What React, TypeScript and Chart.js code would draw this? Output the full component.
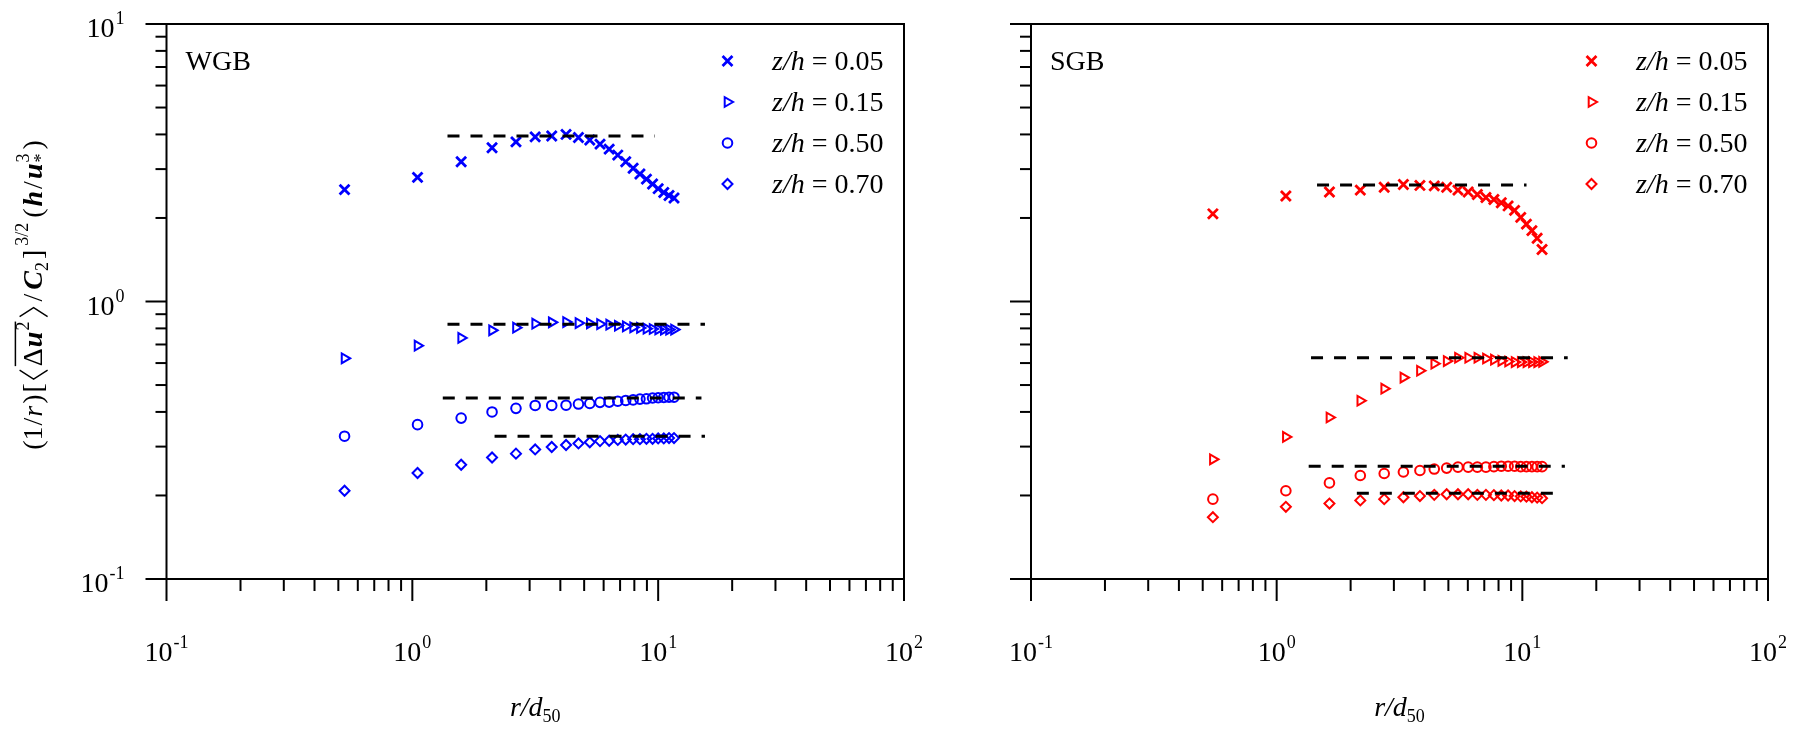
import React, { useEffect, useRef } from 'react';
import { Chart, registerables } from 'chart.js';
import { drawPoint } from 'chart.js/helpers';

Chart.register(...registerables);

const FONT = '"Liberation Serif", "Times New Roman", Times, serif';

// ---------------- data ----------------
const seriesLabels = ['0.05', '0.15', '0.50', '0.70'];

const wgbX = [0.53, 1.05, 1.58, 2.11, 2.64, 3.16, 3.69, 4.22, 4.74, 5.27, 5.80, 6.32, 6.85, 7.38, 7.91, 8.43, 8.96, 9.49, 10.0, 10.54, 11.07, 11.6];
const wgb005 = [2.53, 2.80, 3.19, 3.58, 3.76, 3.92, 3.95, 4.00, 3.90, 3.82, 3.69, 3.54, 3.37, 3.19, 3.02, 2.88, 2.76, 2.65, 2.55, 2.47, 2.41, 2.36];
const wgb015 = [0.624, 0.693, 0.739, 0.787, 0.805, 0.832, 0.841, 0.843, 0.836, 0.834, 0.829, 0.825, 0.818, 0.813, 0.807, 0.803, 0.798, 0.796, 0.794, 0.792, 0.792, 0.792];
const wgb050 = [0.327, 0.360, 0.380, 0.400, 0.412, 0.422, 0.422, 0.423, 0.427, 0.429, 0.433, 0.434, 0.437, 0.440, 0.442, 0.445, 0.446, 0.449, 0.450, 0.451, 0.452, 0.452];
const wgb070 = [0.208, 0.241, 0.258, 0.274, 0.283, 0.293, 0.299, 0.304, 0.308, 0.311, 0.314, 0.315, 0.317, 0.318, 0.319, 0.319, 0.320, 0.320, 0.321, 0.321, 0.322, 0.322];
const wgbRefLevel = [3.95, 0.828, 0.449, 0.327];
const wgbRefStart = [1.39, 1.39, 1.33, 2.16];
const wgbRefEnd = [9.7, 15.5, 15.0, 15.5];

const sgbX = [0.55, 1.09, 1.64, 2.19, 2.74, 3.28, 3.83, 4.38, 4.92, 5.47, 6.02, 6.56, 7.11, 7.66, 8.21, 8.75, 9.30, 9.85, 10.39, 10.94, 11.49, 12.03];
const sgb005 = [2.07, 2.40, 2.48, 2.52, 2.58, 2.64, 2.62, 2.61, 2.58, 2.52, 2.48, 2.43, 2.37, 2.33, 2.27, 2.21, 2.13, 2.01, 1.90, 1.80, 1.69, 1.54];
const sgb015 = [0.270, 0.325, 0.382, 0.439, 0.485, 0.532, 0.563, 0.597, 0.610, 0.627, 0.627, 0.627, 0.623, 0.617, 0.611, 0.608, 0.605, 0.605, 0.605, 0.605, 0.605, 0.606];
const sgb050 = [0.194, 0.208, 0.222, 0.236, 0.240, 0.243, 0.246, 0.249, 0.251, 0.253, 0.253, 0.253, 0.253, 0.254, 0.255, 0.255, 0.255, 0.254, 0.254, 0.254, 0.254, 0.254];
const sgb070 = [0.167, 0.182, 0.187, 0.192, 0.194, 0.197, 0.199, 0.201, 0.202, 0.202, 0.202, 0.201, 0.201, 0.2005, 0.200, 0.200, 0.199, 0.1985, 0.198, 0.197, 0.1965, 0.1955];
const sgbRefLevel = [2.63, 0.627, 0.255, 0.2035];
const sgbRefStart = [1.46, 1.38, 1.35, 2.12];
const sgbRefEnd = [10.4, 15.3, 14.9, 14.7];

const xMajorTicks = [0.1, 1, 10, 100];
const xTickExponents = ['-1', '0', '1', '2'];
const yMajorTicks = [0.1, 1, 10];
const yTickExponents = ['-1', '0', '1'];
const minorMultipliers = [2, 3, 4, 5, 6, 7, 8, 9];

// ---------------- styles ----------------
const markerStyles = [
  { pointStyle: 'crossRot', radius: 7, rotation: 0, borderWidth: 2.8 },
  { pointStyle: 'triangle', radius: 5.6, rotation: 90, borderWidth: 2 },
  { pointStyle: 'circle', radius: 4.8, rotation: 0, borderWidth: 2 },
  { pointStyle: 'rectRot', radius: 5, rotation: 0, borderWidth: 2 },
];

const AREA_TOP = 24;
const AREA_BOTTOM = 579;
const H = 730;

type PanelCfg = {
  name: string;
  color: string;
  xs: number[];
  ys: number[][];
  refLevel: number[];
  refStart: number[];
  refEnd: number[];
  canvasLeft: number;
  canvasWidth: number;
  areaLeft: number;
  areaRight: number;
  yLabels: boolean;
  yTitle: boolean;
};

const panels: PanelCfg[] = [
  {
    name: 'WGB', color: '#0000ff', xs: wgbX, ys: [wgb005, wgb015, wgb050, wgb070],
    refLevel: wgbRefLevel, refStart: wgbRefStart, refEnd: wgbRefEnd,
    canvasLeft: 0, canvasWidth: 945, areaLeft: 166.5, areaRight: 904, yLabels: true, yTitle: true,
  },
  {
    name: 'SGB', color: '#ff0000', xs: sgbX, ys: [sgb005, sgb015, sgb050, sgb070],
    refLevel: sgbRefLevel, refStart: sgbRefStart, refEnd: sgbRefEnd,
    canvasLeft: 945, canvasWidth: 859, areaLeft: 1031, areaRight: 1768, yLabels: false, yTitle: false,
  },
];

type Item = { t?: string; font?: string; dy?: number; gap?: number; kind?: string; w?: number; stackDy?: number; stackT?: string; ovStart?: boolean; ovEnd?: boolean };

function drawPow(ctx: CanvasRenderingContext2D, exp: string, x: number, baseY: number, align: 'center' | 'right') {
  const main = `28px ${FONT}`;
  const sup = `18px ${FONT}`;
  ctx.font = main;
  const w1 = ctx.measureText('10').width;
  ctx.font = sup;
  const w2 = ctx.measureText(exp).width;
  const total = w1 + 1 + w2;
  const x0 = align === 'center' ? x - total / 2 : x - total;
  ctx.textAlign = 'left';
  ctx.textBaseline = 'alphabetic';
  ctx.font = main;
  ctx.fillText('10', x0, baseY);
  ctx.font = sup;
  ctx.fillText(exp, x0 + w1 + 1, baseY - 13);
}

function drawYTitle(ctx: CanvasRenderingContext2D) {
  const S = 28;
  const N = `${S}px ${FONT}`;
  const I = `italic ${S}px ${FONT}`;
  const BI = `italic bold ${S}px ${FONT}`;
  const n = `18px ${FONT}`;
  const items: Item[] = [
    { t: '(', font: N },
    { t: '1', font: N },
    { t: '/', font: N, gap: 1 },
    { t: 'r', font: I, gap: 1 },
    { t: ')', font: N, gap: 2 },
    { t: '[', font: N, gap: 2 },
    { kind: 'angleL', w: 9, gap: 4 },
    { t: 'Δ', font: N, gap: 4, ovStart: true },
    { t: 'u', font: BI, gap: 1 },
    { t: '2', font: n, dy: -13, gap: 1, ovEnd: true },
    { kind: 'angleR', w: 9, gap: 5 },
    { t: '/', font: N, gap: 6 },
    { t: 'C', font: BI, gap: 4 },
    { t: '2', font: n, dy: 6, gap: 0 },
    { t: ']', font: N, gap: 3 },
    { t: '3/2', font: n, dy: -14, gap: 4 },
    { t: '(', font: N, gap: 5 },
    { t: 'h', font: BI, gap: 2 },
    { t: '/', font: N, gap: 2 },
    { t: 'u', font: BI, gap: 2 },
    { t: '*', font: n, dy: 5, gap: 1, stackT: '3', stackDy: -13 },
    { t: ')', font: N, gap: 4 },
  ];
  const widths = items.map((it) => {
    if (it.kind) return it.w as number;
    ctx.font = it.font as string;
    let w = ctx.measureText(it.t as string).width;
    if (it.stackT) w = Math.max(w, ctx.measureText(it.stackT).width);
    return w;
  });
  let total = 0;
  items.forEach((it, i) => { total += (it.gap || 0) + widths[i]; });
  ctx.save();
  ctx.translate(42, 295);
  ctx.rotate(-Math.PI / 2);
  ctx.fillStyle = '#000';
  ctx.strokeStyle = '#000';
  ctx.textAlign = 'left';
  ctx.textBaseline = 'alphabetic';
  let x = -total / 2;
  let ovX0 = 0;
  items.forEach((it, i) => {
    x += it.gap || 0;
    if (it.ovStart) ovX0 = x;
    if (it.kind === 'angleL' || it.kind === 'angleR') {
      const w = it.w as number;
      const top = -S * 0.8, bot = S * 0.2, mid = -S * 0.3;
      ctx.lineWidth = 1.4;
      ctx.beginPath();
      if (it.kind === 'angleL') {
        ctx.moveTo(x + w, top); ctx.lineTo(x, mid); ctx.lineTo(x + w, bot);
      } else {
        ctx.moveTo(x, top); ctx.lineTo(x + w, mid); ctx.lineTo(x, bot);
      }
      ctx.stroke();
    } else {
      ctx.font = it.font as string;
      ctx.fillText(it.t as string, x, it.dy || 0);
      if (it.stackT) ctx.fillText(it.stackT, x, it.stackDy || 0);
    }
    x += widths[i];
    if (it.ovEnd) {
      ctx.lineWidth = 1.5;
      ctx.beginPath();
      ctx.moveTo(ovX0, -S * 0.95);
      ctx.lineTo(x, -S * 0.95);
      ctx.stroke();
    }
  });
  ctx.restore();
}

function makeDecor(cfg: PanelCfg) {
  return {
    id: 'decor',
    afterDraw(chart: any) {
      const ctx: CanvasRenderingContext2D = chart.ctx;
      const a = chart.chartArea;
      const xs = chart.scales.x;
      const ys = chart.scales.y;
      ctx.save();
      ctx.strokeStyle = '#000';
      ctx.fillStyle = '#000';
      ctx.lineWidth = 2;
      ctx.lineCap = 'square';
      // frame
      ctx.beginPath();
      ctx.rect(a.left, a.top, a.right - a.left, a.bottom - a.top);
      ctx.stroke();
      ctx.lineCap = 'butt';
      // x ticks
      xMajorTicks.forEach((v) => {
        const px = xs.getPixelForValue(v);
        ctx.beginPath(); ctx.moveTo(px, a.bottom); ctx.lineTo(px, a.bottom + 22); ctx.stroke();
      });
      xMajorTicks.slice(0, -1).forEach((d) => {
        minorMultipliers.forEach((m) => {
          const px = xs.getPixelForValue(d * m);
          ctx.beginPath(); ctx.moveTo(px, a.bottom); ctx.lineTo(px, a.bottom + 12); ctx.stroke();
        });
      });
      // y ticks
      yMajorTicks.forEach((v) => {
        const py = ys.getPixelForValue(v);
        ctx.beginPath(); ctx.moveTo(a.left, py); ctx.lineTo(a.left - 21, py); ctx.stroke();
      });
      yMajorTicks.slice(0, -1).forEach((d) => {
        minorMultipliers.forEach((m) => {
          const py = ys.getPixelForValue(d * m);
          ctx.beginPath(); ctx.moveTo(a.left, py); ctx.lineTo(a.left - 11, py); ctx.stroke();
        });
      });
      // x tick labels
      xMajorTicks.forEach((v, i) => {
        drawPow(ctx, xTickExponents[i], xs.getPixelForValue(v), 661, 'center');
      });
      if (cfg.yLabels) {
        yMajorTicks.forEach((v, i) => {
          drawPow(ctx, yTickExponents[i], a.left - 42, ys.getPixelForValue(v) + 13, 'right');
        });
      }
      // x title
      {
        const cx = (a.left + a.right) / 2;
        ctx.font = `italic 28px ${FONT}`;
        const w1 = ctx.measureText('r/d').width;
        ctx.font = `18px ${FONT}`;
        const w2 = ctx.measureText('50').width;
        const x0 = cx - (w1 + w2) / 2;
        ctx.textAlign = 'left';
        ctx.textBaseline = 'alphabetic';
        ctx.font = `italic 28px ${FONT}`;
        ctx.fillText('r/d', x0, 716);
        ctx.font = `18px ${FONT}`;
        ctx.fillText('50', x0 + w1, 722);
      }
      // panel name
      ctx.font = `28px ${FONT}`;
      ctx.textAlign = 'left';
      ctx.fillText(cfg.name, a.left + 19, 70);
      // legend
      seriesLabels.forEach((lab, i) => {
        const y = 61 + 41 * i;
        const ms = markerStyles[i];
        ctx.save();
        ctx.strokeStyle = cfg.color;
        ctx.fillStyle = 'rgba(0,0,0,0)';
        ctx.lineWidth = ms.borderWidth;
        drawPoint(ctx, { pointStyle: ms.pointStyle, radius: ms.radius, rotation: ms.rotation, borderWidth: ms.borderWidth } as any, a.right - 176.5, y);
        ctx.restore();
        const tx = a.right - 132;
        ctx.fillStyle = '#000';
        ctx.font = `italic 28px ${FONT}`;
        ctx.fillText('z/h', tx, y + 9);
        const w = ctx.measureText('z/h').width;
        ctx.font = `28px ${FONT}`;
        ctx.fillText(' = ' + lab, tx + w, y + 9);
      });
      if (cfg.yTitle) drawYTitle(ctx);
      ctx.restore();
    },
  };
}

function Panel({ cfg }: { cfg: PanelCfg }) {
  const ref = useRef<HTMLCanvasElement>(null);
  useEffect(() => {
    const canvas = ref.current as HTMLCanvasElement;
    const markerSets = cfg.ys.map((arr, i) => ({
      label: 'z/h = ' + seriesLabels[i],
      data: cfg.xs.map((x, j) => ({ x, y: arr[j] })),
      showLine: false,
      pointStyle: markerStyles[i].pointStyle,
      pointRadius: markerStyles[i].radius,
      pointRotation: markerStyles[i].rotation,
      pointBorderWidth: markerStyles[i].borderWidth,
      pointBorderColor: cfg.color,
      pointBackgroundColor: 'rgba(0,0,0,0)',
      borderColor: cfg.color,
      backgroundColor: 'rgba(0,0,0,0)',
      order: 1,
    }));
    const refSets = cfg.refLevel.map((lv, i) => ({
      label: 'ref ' + seriesLabels[i],
      data: [{ x: cfg.refStart[i], y: lv }, { x: cfg.refEnd[i], y: lv }],
      showLine: true,
      borderColor: '#000',
      borderWidth: 3,
      borderDash: [12, 11],
      pointRadius: 0,
      fill: false,
      order: 0,
    }));
    const yWidth = cfg.areaLeft - cfg.canvasLeft;
    const padRight = cfg.canvasLeft + cfg.canvasWidth - cfg.areaRight;
    const chart = new Chart(canvas, {
      type: 'scatter',
      data: { datasets: [...refSets, ...markerSets] as any },
      options: {
        responsive: false,
        animation: false,
        events: [],
        layout: { padding: { top: AREA_TOP, right: padRight, left: 0, bottom: 0 } },
        plugins: { legend: { display: false }, tooltip: { enabled: false } },
        scales: {
          x: {
            type: 'logarithmic', min: 0.1, max: 100,
            ticks: { display: false }, grid: { display: false }, border: { display: false },
            afterFit: (s: any) => { s.height = H - AREA_BOTTOM; },
          },
          y: {
            type: 'logarithmic', min: 0.1, max: 10,
            ticks: { display: false }, grid: { display: false }, border: { display: false },
            afterFit: (s: any) => { s.width = yWidth; },
          },
        },
      } as any,
      plugins: [makeDecor(cfg)],
    });
    return () => chart.destroy();
  }, []);
  return (
    <canvas
      ref={ref}
      width={cfg.canvasWidth}
      height={H}
      style={{ position: 'absolute', left: cfg.canvasLeft, top: 0, width: cfg.canvasWidth, height: H, display: 'block' }}
    />
  );
}

export default function App() {
  return (
    <div style={{ position: 'fixed', left: 0, top: 0, width: 1804, height: H, background: '#fff', overflow: 'hidden' }}>
      {panels.map((p) => <Panel key={p.name} cfg={p} />)}
    </div>
  );
}
